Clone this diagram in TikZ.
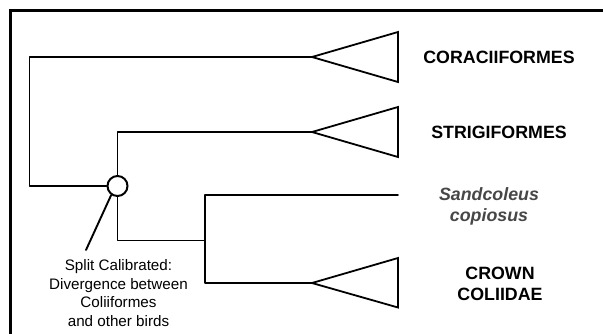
\documentclass[tikz,border=0pt]{standalone}
\usepackage{fontspec}
\setmainfont{Liberation Sans}
\begin{document}
\begin{tikzpicture}[x=1pt,y=-1pt,
  branch/.style={line width=1.9pt,line cap=round,line join=round},
  clade/.style={line width=1.8pt,line join=miter},
  taxon/.style={font=\fontsize{17.8}{21}\selectfont\bfseries,align=center},
  fossil/.style={font=\fontsize{17.8}{21}\selectfont\bfseries\itshape,text=black!72,align=center},
  note/.style={font=\fontsize{15.2}{18.5}\selectfont,align=center}]
\useasboundingbox (0,0) rectangle (603,333);
\fill[white] (0,0) rectangle (603,333);
% frame
\draw[line width=3pt] (10.5,340) -- (10.5,10.5) -- (610,10.5);
% nodes
\coordinate (root) at (29.5,57);
\coordinate (rootb) at (29.5,186);
\node[circle,draw,line width=2pt,minimum size=20pt,inner sep=0pt,fill=white] (cal) at (117.5,186) {};
\coordinate (n2top) at (117.5,132);
\coordinate (n2bot) at (117.5,240.5);
\coordinate (n3) at (205,240.5);
\coordinate (n3top) at (205,195);
\coordinate (n3bot) at (205,283);
\coordinate (apexA) at (312,57);
\coordinate (apexB) at (312,132);
\coordinate (apexC) at (312,283);
\coordinate (sandEnd) at (398,195);
\coordinate (noteEnd) at (86,250);
% branches
\draw[branch] (apexA) -- (root) -- (rootb) -- (cal.west);
\draw[branch] (cal.north) -- (n2top) -- (apexB);
\draw[branch] (cal.south) -- (n2bot) -- (n3);
\draw[branch] (n3top) -- (n3bot) -- (apexC);
\draw[branch] (n3top) -- (sandEnd);
% clade triangles
\draw[clade] (apexA) -- (398,32) -- (398,82) -- cycle;
\draw[clade] (apexB) -- (398,107) -- (398,157) -- cycle;
\draw[clade] (apexC) -- (398,258) -- (398,307.5) -- cycle;
% annotation line
\draw[branch] (cal.235) -- (noteEnd);
% labels
\node[taxon] (coraci) at (499,57) {CORACIIFORMES};
\node[taxon] (strigi) at (499,132) {STRIGIFORMES};
\node[fossil] (sand) at (489,206) {Sandcoleus\\copiosus};
\node[taxon] (crown) at (500,284) {CROWN\\COLIIDAE};
\node[note,anchor=north] (caltext) at (118.5,256) {Split Calibrated:\\Divergence between\\Coliiformes\\and other birds};
\end{tikzpicture}
\end{document}
